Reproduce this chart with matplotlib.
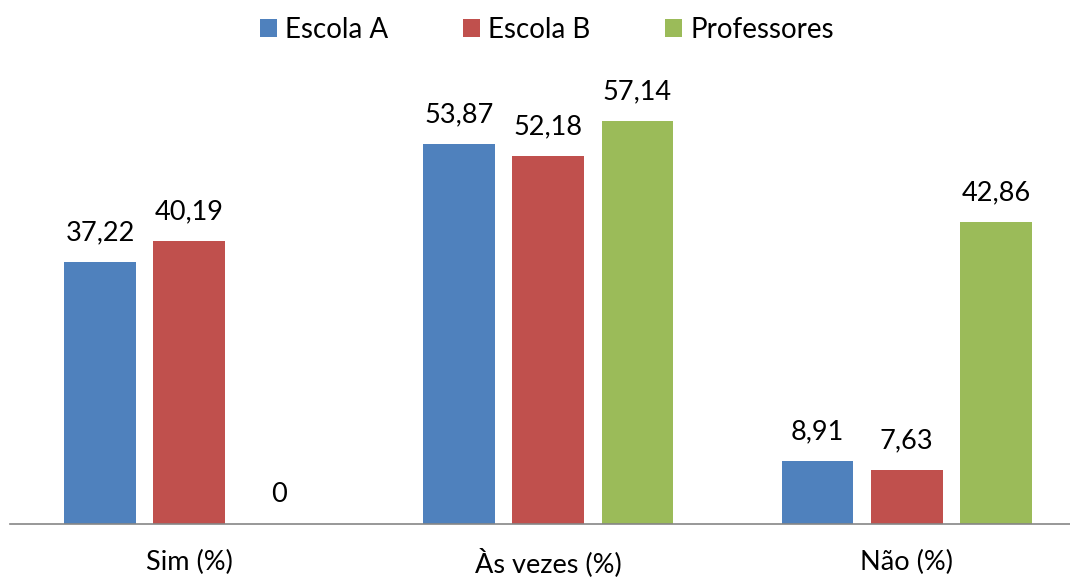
import numpy as np
import matplotlib.pyplot as plt

categories = ['Sim (%)', 'Às vezes (%)', 'Não (%)']
series = ['Escola A', 'Escola B', 'Professores']
escola_a = [37.22, 53.87, 8.91]
escola_b = [40.19, 52.18, 7.63]
professores = [0, 57.14, 42.86]
colors = ['#4F81BD', '#C0504D', '#9BBB59']

plt.rcParams['font.family'] = ['Lato', 'DejaVu Sans']

fig = plt.figure(figsize=(10.7, 5.81), dpi=100)
ax = fig.add_axes([10 / 1070, 57 / 581, 1060 / 1070, 451 / 581])

x = np.arange(len(categories))
width = 0.2
offsets = [-0.249, 0, 0.249]

for vals, name, col, off in zip([escola_a, escola_b, professores], series, colors, offsets):
    bars = ax.bar(x + off, vals, width, color=col, label=name)
    for b, v in zip(bars, vals):
        txt = f'{v:.2f}'.replace('.', ',') if v != 0 else '0'
        ax.annotate(txt, (b.get_x() + b.get_width() / 2, v),
                    xytext=(0, 12), textcoords='offset points',
                    ha='center', va='bottom', fontsize=19.5)

ax.set_xlim(-0.5, 2.455)
ax.set_ylim(0, 64)
ax.set_xticks(x)
ax.set_xticklabels(categories, fontsize=19.5, va='center')
ax.tick_params(axis='x', length=0, pad=28)
ax.set_yticks([])
for s in ['top', 'right', 'left']:
    ax.spines[s].set_visible(False)
ax.spines['bottom'].set_color('#868686')
ax.spines['bottom'].set_linewidth(1.2)

fig.legend(loc='center', bbox_to_anchor=(547 / 1070, 1 - 30 / 581), ncol=3,
           frameon=False, fontsize=20, handlelength=0.6, handleheight=0.6,
           handletextpad=0.3, columnspacing=2.7)

fig.savefig('out.png', dpi=100)
